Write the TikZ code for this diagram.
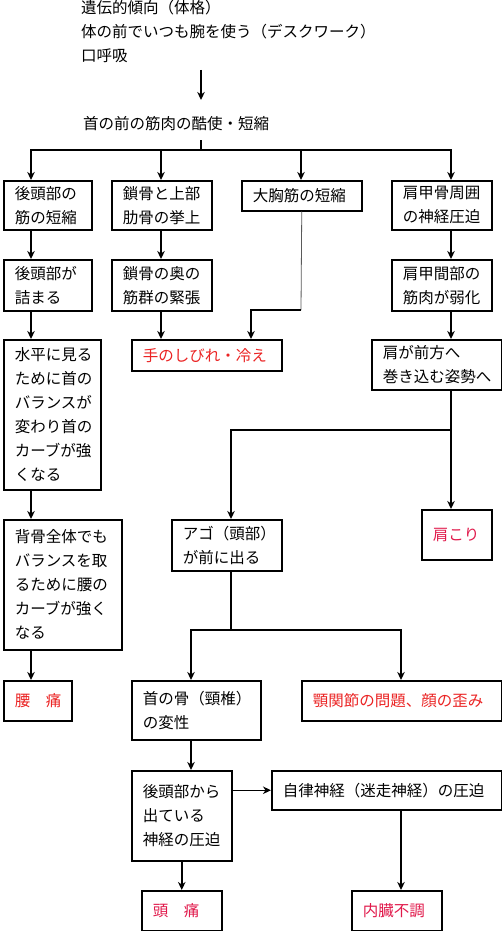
\documentclass[tikz,border=0pt]{standalone}
\usepackage{fontspec}
\setmainfont{Noto Sans CJK JP}
\usetikzlibrary{arrows.meta}
\definecolor{redA}{RGB}{235,35,35}
\definecolor{redB}{RGB}{225,25,75}
\definecolor{thingray}{RGB}{90,90,90}
\begin{document}
\begin{tikzpicture}[x=1pt,y=-1pt,
  font=\fontsize{15.5}{24}\selectfont,
  box/.style={draw, line width=1.5pt, anchor=north west, inner xsep=11pt, inner ysep=0pt, align=left},
  bsz/.style n args={2}{minimum width=#1 pt, minimum height=#2 pt, text width=#1 pt - 22pt},
  arr/.style={line width=1.5pt, -{Stealth[length=8pt,width=7.5pt,inset=2.5pt]}},
  ln/.style={line width=1.5pt},
  thinln/.style={line width=0.8pt, draw=thingray},
  txt/.style={inner sep=0pt, align=left}]
\useasboundingbox (0,0) rectangle (502,931);
\fill[white] (0,0) rectangle (502,931);

% top texts
\node[txt, anchor=west] (src) at (81,32) {遺伝的傾向（体格）\\体の前でいつも腕を使う（デスクワーク）\\口呼吸};
\node[txt, anchor=west] (mid) at (83,124) {首の前の筋肉の酷使・短縮};

% boxes
\node[box, bsz={88}{49}]  (A)  at (3,180)   {後頭部の\\筋の短縮};
\node[box, bsz={100}{49}] (B)  at (111,180) {鎖骨と上部\\肋骨の挙上};
\node[box, bsz={120}{30}] (C)  at (241,180) {大胸筋の短縮};
\node[box, bsz={100}{49}] (D)  at (391,180) {肩甲骨周囲\\の神経圧迫};
\node[box, bsz={88}{51}]  (A2) at (3,259)   {後頭部が\\詰まる};
\node[box, bsz={100}{51}] (B2) at (111,259) {鎖骨の奥の\\筋群の緊張};
\node[box, bsz={100}{51}] (D2) at (391,259) {肩甲間部の\\筋肉が弱化};
\node[box, bsz={97}{150}] (A3) at (3,339)   {水平に見る\\ために首の\\バランスが\\変わり首の\\カーブが強\\くなる};
\node[box, bsz={150}{31}, text=redA] (hand) at (131,339) {手のしびれ・冷え};
\node[box, bsz={130}{50}] (D3) at (371,339) {肩が前方へ\\巻き込む姿勢へ};
\node[box, bsz={118}{130}] (A4) at (3,519)  {背骨全体でも\\バランスを取\\るために腰の\\カーブが強く\\なる};
\node[box, bsz={110}{51}] (ago) at (171,519) {アゴ（頭部）\\が前に出る};
\node[box, bsz={70}{50}, text=redB] (kata) at (421,509) {肩こり};
\node[box, bsz={68}{40}, text=redA] (koshi) at (3,680) {腰　痛};
\node[box, bsz={129}{59}] (kubi) at (131,680) {首の骨（頸椎）\\の変性};
\node[box, bsz={200}{40}, text=redA] (gaku) at (301,680) {顎関節の問題、顔の歪み};
\node[box, bsz={100}{90}] (kou) at (131,770) {後頭部から\\出ている\\神経の圧迫};
\node[box, bsz={230}{39}] (jiri) at (271,770) {自律神経（迷走神経）の圧迫};
\node[box, bsz={80}{40}, text=redB] (zutsu) at (141,890) {頭　痛};
\node[box, bsz={90}{40}, text=redB] (nai) at (351,890) {内臓不調};

% junction coordinates
\coordinate (t0) at (201,70);
\coordinate (t1) at (201,100);
\coordinate (b0) at (201,140);
\coordinate (b1) at (201,150);
\coordinate (ba) at (31,150);
\coordinate (bb) at (161,150);
\coordinate (bc) at (301,150);
\coordinate (bd) at (451,150);
\coordinate (c1) at (301,310);
\coordinate (c2) at (251,310);
\coordinate (j1) at (451,430);
\coordinate (j2) at (231,430);
\coordinate (k0) at (231,630);
\coordinate (k1) at (191,630);
\coordinate (k2) at (401,630);

% connectors
\draw[arr] (t0) -- (t1);
\draw[ln] (b0) -- (b1);
\draw[arr] (bb) -- (ba) -- (A.north -| ba);
\draw[arr] (bb) -- (bd) -- (D.north -| bd);
\draw[arr] (bb) -- (B.north -| bb);
\draw[arr] (bc) -- (C.north -| bc);

\draw[arr] (A.south -| ba) -- (A2.north -| ba);
\draw[arr] (A2.south -| ba) -- (A3.north -| ba);
\draw[arr] (A3.south -| ba) -- (A4.north -| ba);
\draw[arr] (A4.south -| ba) -- (koshi.north -| ba);

\draw[arr] (B.south -| bb) -- (B2.north -| bb);
\draw[arr] (B2.south -| bb) -- (hand.north -| bb);

\draw[thinln] (C.south) -- (c1);
\draw[arr] (c1) -- (c2) -- (hand.north -| c2);

\draw[arr] (D.south -| bd) -- (D2.north -| bd);
\draw[arr] (D2.south -| bd) -- (D3.north -| bd);
\draw[arr] (D3.south -| j1) -- (j1) -- (j2) -- (ago.north -| j2);
\draw[arr] (j1) -- (kata.north -| j1);

\draw[ln] (ago.south -| k0) -- (k0);
\draw[arr] (k0) -- (k1) -- (kubi.north -| k1);
\draw[arr] (k0) -- (k2) -- (gaku.north -| k2);

\draw[arr] (kubi.south -| k1) -- (kou.north -| k1);
\draw[arr] (kou.east |- jiri.west) -- (jiri.west);
\draw[arr] (kou.south) -- (zutsu.north);
\draw[arr] (jiri.south -| k2) -- (nai.north -| k2);
\end{tikzpicture}
\end{document}
